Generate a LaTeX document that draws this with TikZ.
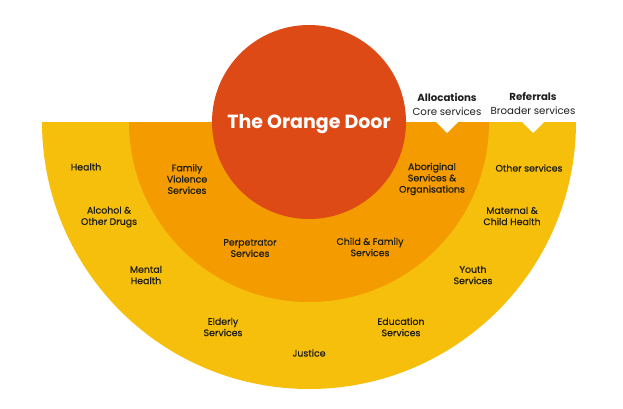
\documentclass[tikz,border=0pt]{standalone}
\usepackage{fontspec}
\setmainfont{Poppins}
\newfontfamily\ringfont[FakeBold=0.6]{Poppins}
\definecolor{doorred}{HTML}{DE4A16}
\definecolor{ringorange}{HTML}{F49B00}
\definecolor{ringyellow}{HTML}{F6BF0C}
\definecolor{labeltext}{HTML}{1E1E1E}
\begin{document}
\begin{tikzpicture}[x=1pt,y=-1pt,
    lbl/.style={align=center,text=labeltext,font=\ringfont\fontsize{9.4}{11.3}\selectfont,inner sep=0pt},
    toplbl/.style={align=center,text=labeltext,font=\fontsize{10.2}{14}\selectfont,inner sep=0pt}]
        \useasboundingbox (0,0) rectangle (623,409);
        % rings
        \fill[ringyellow] (42,122) arc[start angle=180,end angle=0,radius=267] -- cycle;
        \fill[ringorange] (129,122) arc[start angle=180,end angle=0,radius=180] -- cycle;
        \fill[doorred] (309,122) circle (97);
        \node[text=white,font=\fontsize{19}{22}\selectfont\bfseries] (door) at (309,124) {The Orange Door};

        % notches
        \fill[white] (435,121) -- (459,121) -- (447,133) -- cycle;
        \fill[white] (521,121) -- (545,121) -- (533,133) -- cycle;
        \node[toplbl] (alloc) at (447,104) {\textbf{Allocations}\\Core services};
        \node[toplbl] (refer) at (533,104) {\textbf{Referrals}\\Broader services};

        % inner ring
        \node[lbl] (fvs) at (187,179) {Family\\Violence\\Services};
        \node[lbl] (perp) at (250,248) {Perpetrator\\Services};
        \node[lbl] (cfs) at (370,247) {Child \& Family\\Services};
        \node[lbl] (abor) at (432,179) {Aboriginal\\Services \&\\Organisations};

        % outer ring
        \node[lbl] (health) at (86,167) {Health};
        \node[lbl] (aod) at (109,217) {Alcohol \&\\Other Drugs};
        \node[lbl] (mental) at (146,275) {Mental\\Health};
        \node[lbl] (elderly) at (223,327) {Elderly\\Services};
        \node[lbl] (justice) at (309,353) {Justice};
        \node[lbl] (edu) at (401,327) {Education\\Services};
        \node[lbl] (youth) at (473,275) {Youth\\Services};
        \node[lbl] (mch) at (512,216) {Maternal \&\\Child Health};
        \node[lbl] (other) at (529,168) {Other services};
    \end{tikzpicture}
\end{document}
